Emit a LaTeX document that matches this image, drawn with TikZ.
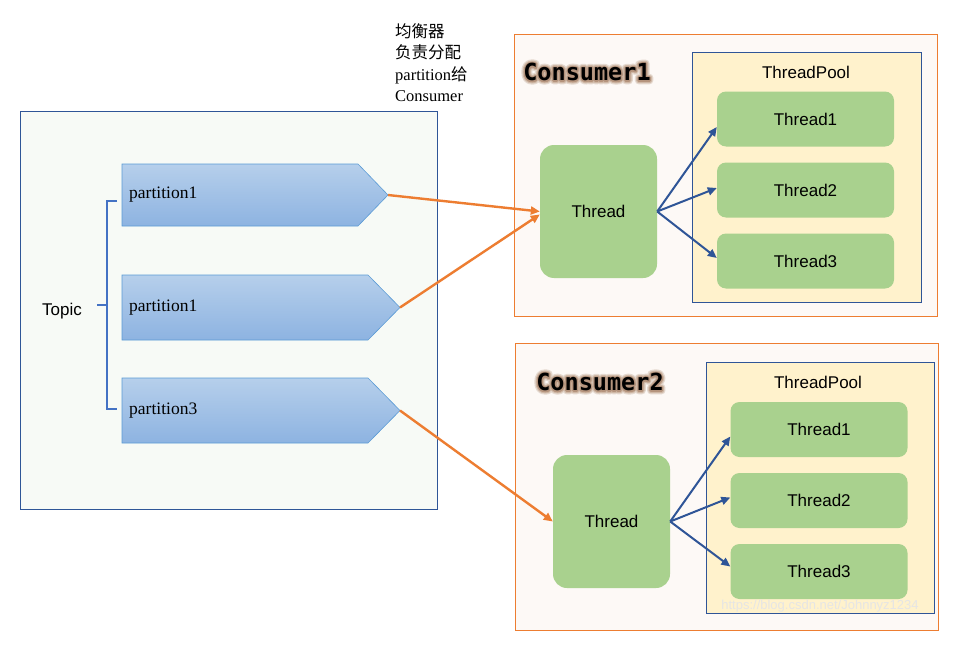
\documentclass[tikz,border=0pt]{standalone}
\usepackage{fontspec}
\setmainfont{Liberation Serif}
\setsansfont{Liberation Sans}
\newfontfamily\monob{DejaVu Sans Mono Bold}
\newfontfamily\cjk{Noto Sans CJK SC}
\usetikzlibrary{arrows.meta,calc}
\definecolor{topicfill}{HTML}{F7FAF6}
\definecolor{darkblue}{HTML}{2F5597}
\definecolor{consfill}{HTML}{FDF9F6}
\definecolor{orangeline}{HTML}{ED7D31}
\definecolor{poolfill}{HTML}{FFF2CC}
\definecolor{thgreen}{HTML}{A9D18E}
\definecolor{parttop}{HTML}{B6CFEB}
\definecolor{partbot}{HTML}{8DB3E1}
\definecolor{partedge}{HTML}{5B9BD5}
\definecolor{bracec}{HTML}{4472C4}
\tikzset{
  topicbox/.style={draw=darkblue, line width=0.8pt, fill=topicfill, minimum width=417pt, minimum height=398pt, inner sep=0pt},
  consbox/.style={draw=orangeline, line width=0.8pt, fill=consfill, inner sep=0pt},
  poolbox/.style={draw=darkblue, line width=0.8pt, fill=poolfill, inner sep=0pt},
  thsmall/.style={fill=thgreen, rounded corners=9pt, minimum width=177pt, minimum height=55pt, inner sep=0pt, font=\sffamily\fontsize{17}{19}\selectfont},
  thbig/.style={fill=thgreen, rounded corners=14pt, minimum width=117pt, minimum height=133pt, inner sep=0pt, font=\sffamily\fontsize{17}{19}\selectfont},
  partshape/.style={draw=partedge, line width=0.6pt, top color=parttop, bottom color=partbot},
  parttext/.style={anchor=west, inner sep=0pt, font=\fontsize{17.5}{20}\selectfont},
  plain/.style={inner sep=0pt, font=\sffamily\fontsize{17}{19}\selectfont},
  feed/.style={draw=orangeline, line width=2.4pt, -{Triangle[length=9pt,width=8pt]}},
  spawn/.style={draw=darkblue, line width=2pt, -{Triangle[length=9pt,width=8pt]}},
  glowtxt/.style={inner sep=0pt, text=black, font=\monob\fontsize{23.5}{25}\selectfont},
}
% halo drawn by stroking the glyphs (text render mode 2), all in one text node
\newcommand{\halo}[3]{\rlap{\special{pdf:literal direct q 2 Tr #1 w 1 j 1 J #2 RG #2 rg}#3\special{pdf:literal direct Q}}}
\newcommand{\glowword}[1]{\halo{7.5}{0.90 0.85 0.81}{#1}\halo{5}{0.81 0.72 0.65}{#1}\halo{2.8}{0.71 0.58 0.49}{#1}#1}
\begin{document}
\begin{tikzpicture}[x=1pt,y=-1pt]
\useasboundingbox (0,0) rectangle (970,645);
\fill[white] (0,0) rectangle (970,645);

% Topic box
\node[topicbox] (topic) at (228.5,310) {};
\node[plain] (topiclbl) at (62,311) {Topic};

% brace
\draw[bracec, line width=2.6pt] (117,201) -- (107,201) -- (107,409) -- (117,409);
\draw[bracec, line width=2.6pt] (107,305) -- (97,305);

% partitions (pentagon arrows), tips as named coordinates
\shade[partshape] (122,164) -- (358,164) -- (388,195) -- (358,226) -- (122,226) -- cycle;
\coordinate (p1) at (388,195);
\shade[partshape] (122,275) -- (368,275) -- (400,307.5) -- (368,340) -- (122,340) -- cycle;
\coordinate (p2) at (400,307.5);
\shade[partshape] (122,378) -- (368,378) -- (400,410.5) -- (368,443) -- (122,443) -- cycle;
\coordinate (p3) at (400,410.5);
\node[parttext] (p1t) at (129,195) {partition1};
\node[parttext] (p2t) at (129,308) {partition1};
\node[parttext] (p3t) at (129,411) {partition3};

% balancer text
\node[anchor=north west, inner sep=0pt, align=left, font=\fontsize{16.5}{21.5}\selectfont] (bal) at (395,23)
  {{\cjk 均衡器}\\{\cjk 负责分配}\\partition{\cjk 给}\\Consumer};

% Consumer 1
\node[consbox, minimum width=423pt, minimum height=282pt] (c1) at (725.5,175) {};
\node[poolbox, minimum width=229pt, minimum height=250pt] (pool1) at (806.5,177) {};
\node[plain] (pool1l) at (806,72) {ThreadPool};
\node[thsmall] (a1) at (805.5,119) {Thread1};
\node[thsmall] (a2) at (805.5,190) {Thread2};
\node[thsmall] (a3) at (805.5,261) {Thread3};
\node[thbig] (t1) at (598.5,211.5) {Thread};
\node[glowtxt] (c1l) at (587,72) {\glowword{Consumer1}};

% Consumer 2
\node[consbox, minimum width=423pt, minimum height=287pt] (c2) at (726.5,486.5) {};
\node[poolbox, minimum width=228pt, minimum height=251pt] (pool2) at (820,487.5) {};
\node[plain] (pool2l) at (818,382) {ThreadPool};
\node[thsmall] (b1) at (819,429.5) {Thread1};
\node[thsmall] (b2) at (819,500.5) {Thread2};
\node[thsmall] (b3) at (819,571.5) {Thread3};
\node[thbig] (t2) at (611.5,521.5) {Thread};
\node[glowtxt] (c2l) at (600,382) {\glowword{Consumer2}};

% watermark
\node[inner sep=0pt, text=white!90!black, font=\sffamily\fontsize{13}{15}\selectfont] (wm) at (820,606) {https://blog.csdn.net/Johnnyz1234};

% feeds
\draw[feed] (p1) -- (t1.west);
\draw[feed] (p2) -- ([yshift=-3pt]t1.west);
\draw[feed] (p3) -- (t2.west);

% spawns
\draw[spawn] (t1.east) -- ([yshift=-8pt]a1.west);
\draw[spawn] (t1.east) -- ([yshift=2pt]a2.west);
\draw[spawn] (t1.east) -- ([yshift=3pt]a3.west);
\draw[spawn] (t2.east) -- ([yshift=-7pt]b1.west);
\draw[spawn] (t2.east) -- ([yshift=3pt]b2.west);
\draw[spawn] (t2.east) -- ([yshift=5pt]b3.west);
\end{tikzpicture}
\end{document}
